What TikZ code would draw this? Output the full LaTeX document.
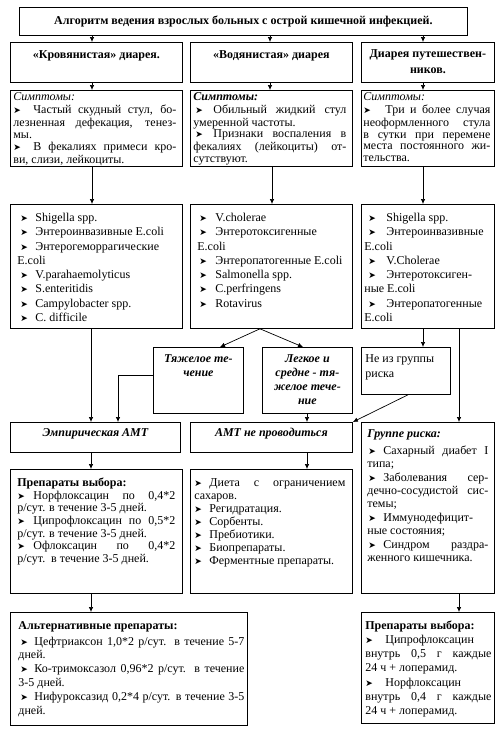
\documentclass[tikz,border=0pt]{standalone}
\usepackage{fontspec}
\setmainfont{Liberation Serif}
\newfontfamily\dvsans{DejaVu Sans}
\usetikzlibrary{arrows.meta,calc}
\newlength\bulind
\newlength\bulwd
\newcommand\bulglyph{{\dvsans\fontsize{9}{9}\selectfont ➤}}
\newcommand\bul{\hspace*{\bulind}\makebox[\bulwd][l]{\bulglyph}}
\newcommand\jl[1]{\hbox to \linewidth{\strut#1}}
\newcommand\lft[1]{\hbox to \linewidth{\strut#1\hfil}}
\newcommand\ctr[1]{\hbox to \linewidth{\strut\hfil#1\hfil}}
% #1 w, #2 h, #3 padL, #4 padR, #5 top skip, #6 font size, #7 baselineskip, #8 content
\newcommand\tbox[8]{\hspace*{#3pt}\parbox[t][#2pt][t]{\dimexpr#1pt-#3pt-#4pt\relax}{\fontsize{#6}{#7}\selectfont\vskip#5pt\relax#8}\hspace*{#4pt}}
\begin{document}
\begin{tikzpicture}[x=1pt,y=-1pt,
  every node/.style={font=\fontsize{12}{14}\selectfont},
  bx/.style={draw, line width=0.8pt, anchor=north west, inner sep=0pt},
  arr/.style={line width=0.7pt, -{Latex[length=5pt,width=4.5pt]}}]
\path[use as bounding box, fill=white] (0,0) rectangle (499,729);

% title
\node[bx, minimum width=448pt, minimum height=28pt, font=\fontsize{12}{14}\selectfont\bfseries] (t) at (19,7)
  {Алгоритм ведения взрослых больных с острой кишечной инфекцией.};

% row 2
\node[bx] (r1) at (10,42) {\tbox{172}{40}{4}{4}{4}{12}{17}{\bfseries\ctr{«Кровянистая» диарея.}}};
\node[bx] (r2) at (190,42) {\tbox{162}{40}{4}{4}{4}{12}{17}{\bfseries\ctr{«Водянистая» диарея}}};
\node[bx] (r3) at (361,42) {\tbox{133}{40}{4}{4}{4}{12}{16}{\bfseries\ctr{Диарея путешествен-}\ctr{ников.}}};

% symptoms
\node[bx] (s1) at (10,90) {\tbox{172}{76}{3}{6}{2.3}{12}{11.5}{\setlength\bulind{0pt}\setlength\bulwd{20pt}%
\lft{\itshape Симптомы:}
\jl{\bul Частый скудный стул, бо-}
\jl{лезненная дефекация, тенез-}
\lft{мы.}
\jl{\bul В фекалиях примеси кро-}
\lft{ви, слизи, лейкоциты.}}};
\node[bx] (s2) at (190,90) {\tbox{162}{76}{3}{6}{2.3}{12}{11.5}{\setlength\bulind{2pt}\setlength\bulwd{18pt}%
\lft{\bfseries\itshape Симптомы:}
\jl{\bul Обильный жидкий стул}
\lft{умеренной частоты.}
\jl{\bul Признаки воспаления в}
\jl{фекалиях (лейкоциты) от-}
\lft{сутствуют.}}};
\node[bx] (s3) at (361,90) {\tbox{133}{76}{2}{4}{2.3}{12}{11.5}{\setlength\bulind{0pt}\setlength\bulwd{22pt}%
\lft{\itshape Симптомы:}
\jl{\bul Три и более случая}
\jl{неоформленного стула}
\jl{в сутки при перемене}
\jl{места постоянного жи-}
\lft{тельства.}}};

% pathogens
\node[bx] (p1) at (10,204) {\tbox{172}{124}{7}{7}{7}{12}{14.3}{\setlength\bulind{3pt}\setlength\bulwd{15pt}%
\lft{\bul Shigella spp.}
\lft{\bul Энтероинвазивные E.coli}
\jl{\bul Энтерогеморрагические}
\lft{E.coli}
\lft{\bul V.parahaemolyticus}
\lft{\bul S.enteritidis}
\lft{\bul Campylobacter spp.}
\lft{\bul C. difficile}}};
\node[bx] (p2) at (190,204) {\tbox{162}{124}{7}{4}{7}{12}{14.3}{\setlength\bulind{2pt}\setlength\bulwd{16pt}%
\lft{\bul V.cholerae}
\jl{\bul Энтеротоксигенные}
\lft{E.coli}
\lft{\bul Энтеропатогенные E.coli}
\lft{\bul Salmonella spp.}
\lft{\bul C.perfringens}
\lft{\bul Rotavirus}}};
\node[bx] (p3) at (361,204) {\tbox{133}{124}{3}{3}{7}{12}{14.3}{\setlength\bulind{4pt}\setlength\bulwd{18pt}%
\lft{\bul Shigella spp.}
\jl{\bul Энтероинвазивные}
\lft{E.coli}
\lft{\bul V.Cholerae}
\jl{\bul Энтеротоксиген-}
\lft{ные E.coli}
\jl{\bul Энтеропатогенные}
\lft{E.coli}}};

% severity
\node[bx] (sv1) at (153,347) {\tbox{90}{66}{3}{3}{5.2}{12}{14}{\bfseries\itshape\ctr{Тяжелое те-}\ctr{чение}}};
\node[bx] (sv2) at (262,347) {\tbox{90}{66}{3}{3}{5.2}{12}{14}{\bfseries\itshape\ctr{Легкое и}\ctr{средне - тя-}\ctr{желое тече-}\ctr{ние}}};
\node[bx] (sv3) at (361,347) {\tbox{89}{47}{4}{4}{5.2}{12}{14.5}{\lft{Не из группы}\lft{риска}}};

% row 5
\node[bx] (e1) at (10,422) {\tbox{170}{30}{3}{3}{4.2}{12}{14}{\bfseries\itshape\ctr{Эмпирическая АМТ}}};
\node[bx] (e2) at (190,422) {\tbox{162}{30}{3}{3}{4.2}{12}{14}{\bfseries\itshape\ctr{АМТ не проводиться}}};
\node[bx] (e3) at (361,422) {\tbox{133}{171}{6}{6}{5.6}{12}{13.4}{\setlength\bulind{1pt}\setlength\bulwd{15pt}%
\lft{\bfseries\itshape Группе риска:}\vskip3.6pt
\jl{\bul Сахарный диабет I}
\lft{типа;}
\jl{\bul Заболевания сер-}
\jl{дечно-сосудистой сис-}
\lft{темы;}
\jl{\bul Иммунодефицит-}
\lft{ные состояния;}
\jl{\bul Синдром раздра-}
\lft{женного кишечника.}}};

% row 6
\node[bx] (c1) at (10,469) {\tbox{172}{124}{7}{7}{8.1}{12}{12.7}{\setlength\bulind{0pt}\setlength\bulwd{16pt}%
\lft{\bfseries Препараты выбора:}
\jl{\bul Норфлоксацин по 0,4*2}
\lft{р/сут. в течение 3-5 дней.}
\jl{\bul Ципрофлоксацин по 0,5*2}
\lft{р/сут. в течение 3-5 дней.}
\jl{\bul Офлоксацин по 0,4*2}
\lft{р/сут.\ \ в течение 3-5 дней.}}};
\node[bx] (c2) at (190,469) {\tbox{162}{124}{4}{7}{7.9}{12}{13}{\setlength\bulind{0pt}\setlength\bulwd{15pt}%
\jl{\bul Диета с ограничением}
\lft{сахаров.}
\lft{\bul Регидратация.}
\lft{\bul Сорбенты.}
\lft{\bul Пребиотики.}
\lft{\bul Биопрепараты.}
\lft{\bul Ферментные препараты.}}};

% row 7
\node[bx] (a1) at (10,612) {\tbox{237}{113}{8}{3}{7.3}{12}{13.8}{\setlength\bulind{2pt}\setlength\bulwd{14pt}%
\lft{\bfseries Альтернативные препараты:}\vskip2pt
\jl{\bul Цефтриаксон 1,0*2 р/сут. в течение 5-7}
\lft{дней.}
\jl{\bul Ко-тримоксазол 0,96*2 р/сут. в течение}
\lft{3-5 дней.}
\jl{\bul Нифуроксазид 0,2*4 р/сут. в течение 3-5}
\lft{дней.}}};
\node[bx] (a2) at (361,612) {\tbox{133}{111}{4}{3}{7}{12}{14.2}{\setlength\bulind{0pt}\setlength\bulwd{20pt}%
\lft{\bfseries Препараты выбора:}
\jl{\bul Ципрофлоксацин}
\jl{внутрь 0,5 г каждые}
\lft{24 ч + лоперамид.}
\jl{\bul Норфлоксацин}
\jl{внутрь 0,4 г каждые}
\lft{24 ч + лоперамид.}}};

% x positions of connectors
\coordinate (xA) at (92,0);
\coordinate (xB) at (270,0);
\coordinate (xC) at (423,0);
\coordinate (xD) at (272,0);
\coordinate (xE) at (91,0);
\coordinate (xF) at (260,0);
\coordinate (xG) at (220,0);
\coordinate (xH) at (303,0);
\coordinate (xI) at (118,0);
\coordinate (xJ) at (307,0);
\coordinate (xK) at (408,0);
\coordinate (xL) at (459,0);

\draw[arr] (t.south -| xA) -- (r1.north -| xA);
\draw[arr] (t.south -| xB) -- (r2.north -| xB);
\draw[arr] (t.south -| xC) -- (r3.north -| xC);
\draw[arr] (r1.south -| xA) -- (s1.north -| xA);
\draw[arr] (r2.south -| xB) -- (s2.north -| xB);
\draw[arr] (r3.south -| xC) -- (s3.north -| xC);
\draw[arr] (s1.south -| xA) -- (p1.north -| xA);
\draw[arr] (s2.south -| xD) -- (p2.north -| xD);
\draw[arr] (s3.south -| xC) -- (p3.north -| xC);
\draw[arr] (p1.south -| xE) -- (e1.north -| xE);
\draw[arr] (p2.south -| xF) -- (sv1.north -| xG);
\draw[arr] (p2.south -| xF) -- (sv2.north -| xH);
\draw[arr] ($(sv1.north west)+(0,28)$) -| (e1.north -| xI);
\draw[arr] (sv2.south -| xJ) -- (e2.north -| xJ);
\draw[arr] (sv3.south -| xK) -- (e2.north east);
\draw[arr] (p3.south -| xC) -- (sv3.north -| xC);
\draw[arr] (p3.south -| xL) -- (e3.north -| xL);
\draw[arr] (e1.south -| xE) -- (c1.north -| xE);
\draw[arr] (e2.south -| xJ) -- (c2.north -| xJ);
\draw[arr] (c1.south -| xE) -- (a1.north -| xE);
\draw[arr] (e3.south -| xL) -- (a2.north -| xL);
\end{tikzpicture}
\end{document}
